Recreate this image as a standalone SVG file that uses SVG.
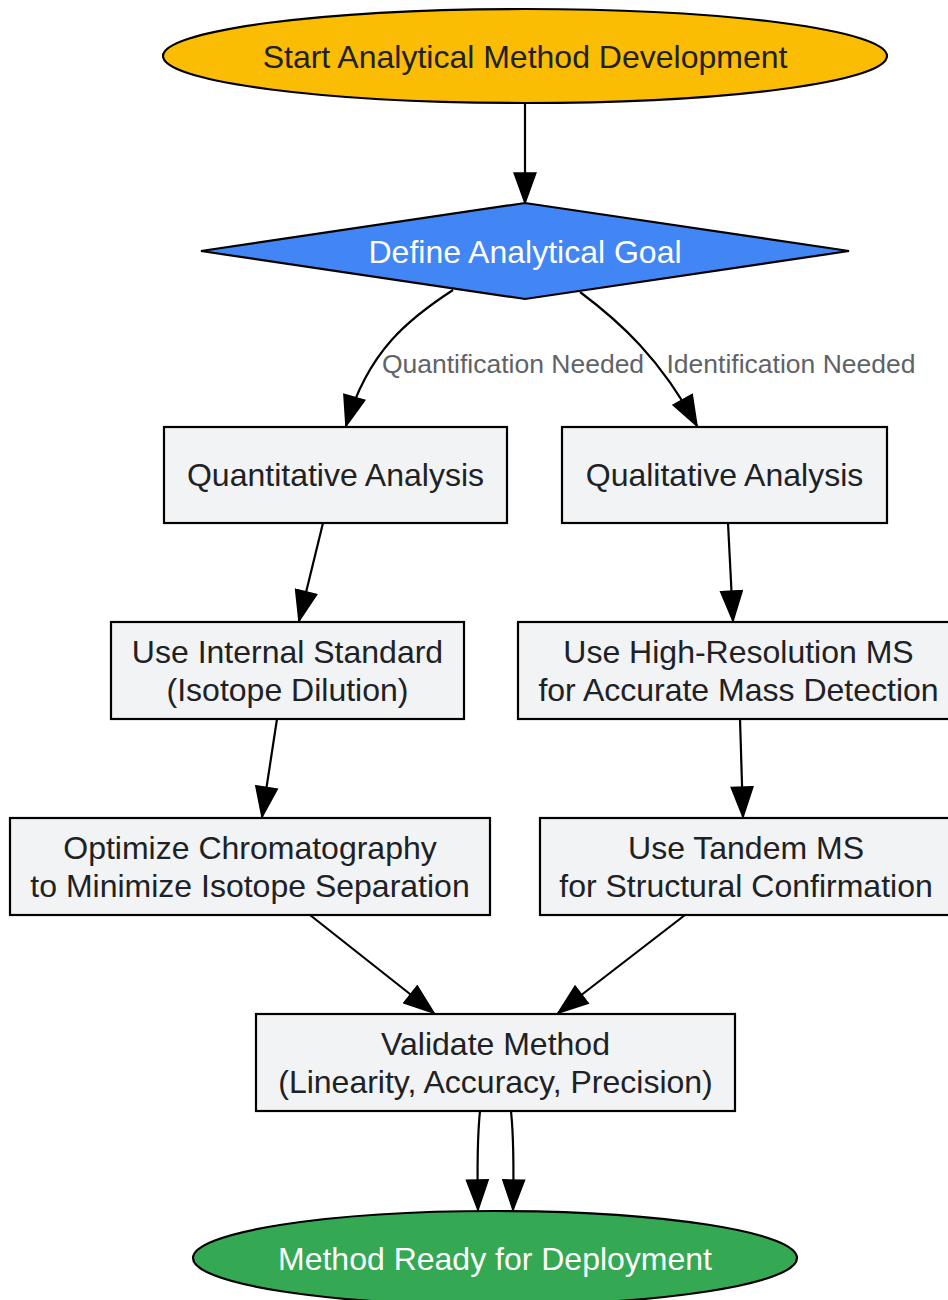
<svg xmlns="http://www.w3.org/2000/svg" width="948" height="1300" viewBox="0 0 948 1300">
<style>
.n{stroke:#000;stroke-width:2.2}
.box{fill:#f1f3f4}
.t{font-family:"Liberation Sans",Arial,sans-serif;font-size:32px;text-anchor:middle;fill:#202124}
.w{fill:#ffffff}
.lbl{font-family:"Liberation Sans",Arial,sans-serif;font-size:26.5px;text-anchor:middle;fill:#5f6368}
.e{fill:none;stroke:#000;stroke-width:2.2}
</style>
<defs>
<marker id="arr" markerUnits="userSpaceOnUse" markerWidth="32" markerHeight="24" viewBox="0 0 31 23" refX="30" refY="11.5" orient="auto">
<path d="M1,1 L30,11.5 L1,22 z" fill="#000" stroke="#000" stroke-width="1.5"/>
</marker>
</defs>
<g id="edges">
<path class="e" d="M525,103 L525,203" marker-end="url(#arr)"/>
<path class="e" d="M453,290 C410,318 368,350 346,426" marker-end="url(#arr)"/>
<text class="lbl" x="513" y="373">Quantification Needed</text>
<path class="e" d="M580,292 C620,322 660,358 697,426" marker-end="url(#arr)"/>
<text class="lbl" x="791" y="373">Identification Needed</text>
<path class="e" d="M323,523 L299,621" marker-end="url(#arr)"/>
<path class="e" d="M728,523 L733,621" marker-end="url(#arr)"/>
<path class="e" d="M277,719 L262,817" marker-end="url(#arr)"/>
<path class="e" d="M740,719 L743,817" marker-end="url(#arr)"/>
<path class="e" d="M310,915 L434,1013" marker-end="url(#arr)"/>
<path class="e" d="M685,915 L558,1013" marker-end="url(#arr)"/>
<path class="e" d="M480,1111 C477,1140 477,1165 478,1210" marker-end="url(#arr)"/>
<path class="e" d="M511,1111 C514,1140 514,1165 513,1210" marker-end="url(#arr)"/>
</g>
<g id="start">
<ellipse class="n" cx="525" cy="56" rx="362" ry="47" fill="#fbbc04"/>
<text class="t" x="525" y="68">Start Analytical Method Development</text>
</g>
<g id="goal">
<polygon class="n" points="201,251 525,203 849,251 525,299" fill="#4285f4"/>
<text class="t w" x="525" y="263">Define Analytical Goal</text>
</g>
<g id="quant">
<rect class="n box" x="164" y="427" width="343" height="96"/>
<text class="t" x="335.5" y="486">Quantitative Analysis</text>
</g>
<g id="qual">
<rect class="n box" x="562" y="427" width="325" height="96"/>
<text class="t" x="724.5" y="486">Qualitative Analysis</text>
</g>
<g id="internal">
<rect class="n box" x="111" y="622" width="353" height="97"/>
<text class="t" x="287.5" y="663">Use Internal Standard</text>
<text class="t" x="287.5" y="701">(Isotope Dilution)</text>
</g>
<g id="hrms">
<rect class="n box" x="518" y="622" width="441" height="97"/>
<text class="t" x="738.5" y="663">Use High-Resolution MS</text>
<text class="t" x="738.5" y="701">for Accurate Mass Detection</text>
</g>
<g id="chrom">
<rect class="n box" x="10" y="818" width="480" height="97"/>
<text class="t" x="250" y="859">Optimize Chromatography</text>
<text class="t" x="250" y="897">to Minimize Isotope Separation</text>
</g>
<g id="tandem">
<rect class="n box" x="540" y="818" width="412" height="97"/>
<text class="t" x="746" y="859">Use Tandem MS</text>
<text class="t" x="746" y="897">for Structural Confirmation</text>
</g>
<g id="validate">
<rect class="n box" x="256" y="1014" width="479" height="97"/>
<text class="t" x="495.5" y="1055">Validate Method</text>
<text class="t" x="495.5" y="1093">(Linearity, Accuracy, Precision)</text>
</g>
<g id="end">
<ellipse class="n" cx="495" cy="1258" rx="302" ry="47" fill="#34a853"/>
<text class="t w" x="495" y="1270">Method Ready for Deployment</text>
</g>
</svg>
